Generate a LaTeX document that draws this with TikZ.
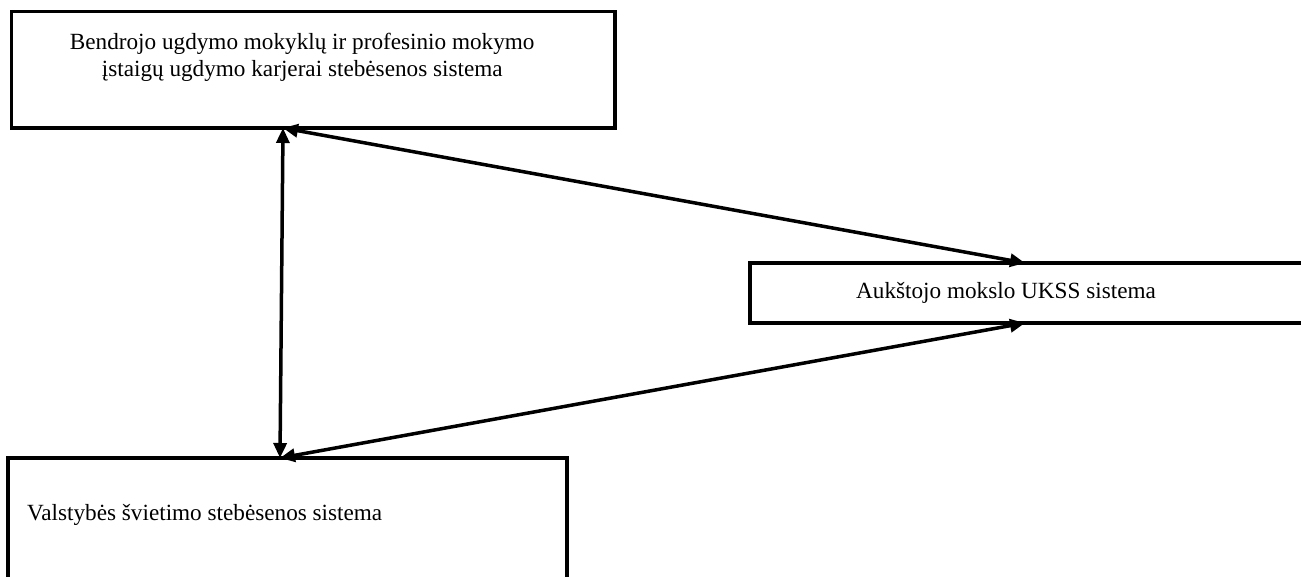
\documentclass[tikz,border=0pt]{standalone}
\usepackage{fontspec}
\setmainfont{Liberation Serif}
\usetikzlibrary{arrows.meta, positioning, calc}

\tikzset{
  sysbox/.style={draw, line width=3.6pt, outer sep=0pt, inner sep=0pt},
  boxtext/.style={inner sep=0pt, font=\fontsize{23.2pt}{27.5pt}\selectfont},
  link/.style={<->, line width=3.5pt}
}

\begin{document}
\begin{tikzpicture}[x=1pt, y=-1pt, >={Triangle[length=15pt, width=13pt]}, line join=miter]
    \useasboundingbox (0,0) rectangle (1301,577);
    \clip (0,0) rectangle (1301,577);

    % langeliai
    \node[sysbox, minimum width=603.5pt, minimum height=116.5pt] (bendr) at (313.25,69.75) {};
    \node[sysbox, minimum width=570pt, minimum height=60pt] (ukss) at (1035,293) {};
    \node[sysbox, minimum width=559pt, minimum height=150pt] (valst) at (287.5,533) {};

    % tekstai
    \node[boxtext, align=center, below=21pt of bendr.north, xshift=-11pt] (bendrtxt)
        {Bendrojo ugdymo mokyklų ir profesinio mokymo\\įstaigų ugdymo karjerai stebėsenos sistema};
    \node[boxtext, right=106pt of ukss.west] (ukssttxt) {Aukštojo mokslo UKSS sistema};
    \node[boxtext, anchor=base west] (valsttxt) at ($(valst.north west)+(19,62)$)
        {Valstybės švietimo stebėsenos sistema};

    % jungtys
    \coordinate (bA) at ($(bendr.south west)+(271.5,0)$);
    \coordinate (uA) at ($(ukss.north west)+(275,0)$);
    \coordinate (uB) at ($(ukss.south west)+(275,0)$);
    \coordinate (vA) at ($(valst.north west)+(272,0)$);
    \draw[link] (bA) -- (uA);
    \draw[link] (bA) -- (vA);
    \draw[link] (vA) -- (uB);
\end{tikzpicture}
\end{document}
